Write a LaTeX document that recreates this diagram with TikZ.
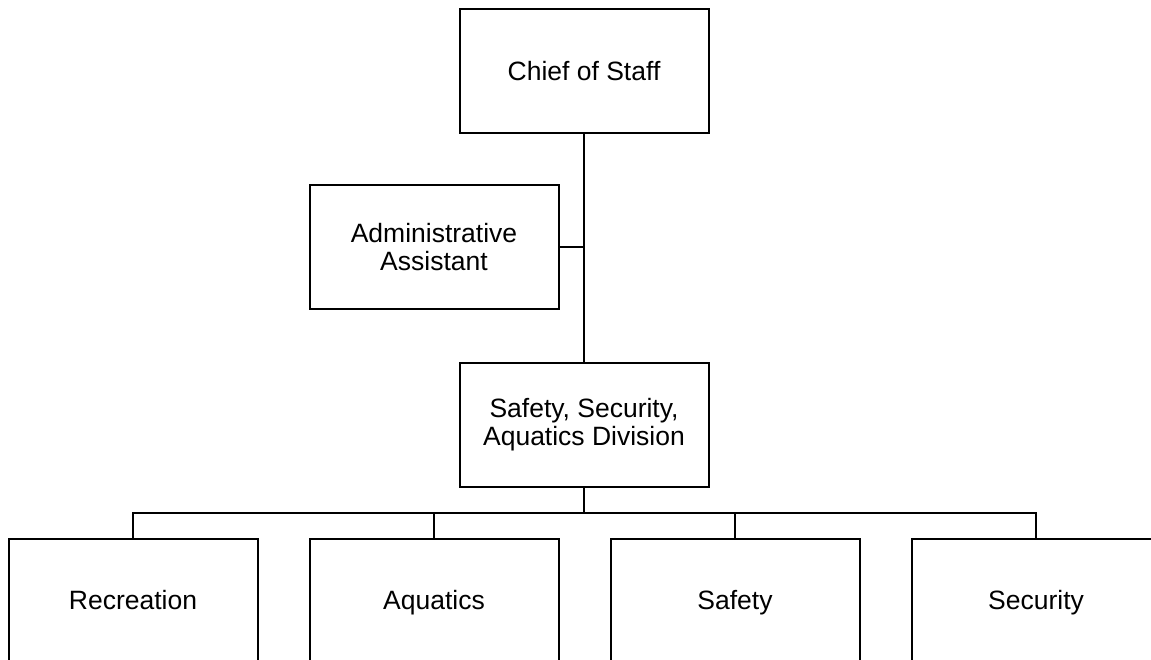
\documentclass[tikz,border=0pt]{standalone}
\usepackage{fontspec}
\setmainfont{Liberation Sans}
\begin{document}
\begin{tikzpicture}[x=1pt,y=-1pt,
  orgbox/.style={draw, line width=2pt, rectangle, minimum width=249pt,
    minimum height=124pt, inner sep=0pt, align=center,
    font=\fontsize{26.5}{27.7}\selectfont},
  unitbox/.style={orgbox, text height=19pt, text depth=2pt},
  link/.style={line width=2pt}]
  \useasboundingbox (0,0) rectangle (1151,660);
  \clip (0,0) rectangle (1151,660);
  % top of the chart
  \node[orgbox] (chief) at (584,71) {Chief of Staff};
  \node[orgbox] (admin) at (434,247) {Administrative\\Assistant};
  \node[orgbox] (div) at (584,424.5) {Safety, Security,\\Aquatics Division};
  % units
  \node[unitbox] (rec) at (133,601) {Recreation};
  \node[unitbox] (aq)  at (434,601) {Aquatics};
  \node[unitbox] (saf) at (735,601) {Safety};
  \node[unitbox] (sec) at (1036,601) {Security};
  % connectors
  \coordinate (bus) at (584,512.5);
  \draw[link] (chief.south) -- (div.north);
  \draw[link] (admin.east) -- (admin.east -| chief.south);
  \draw[link] (div.south) -- (bus);
  \draw[link] (rec.north) |- (bus) -| (sec.north);
  \draw[link] (aq.north) -- (aq.north |- bus);
  \draw[link] (saf.north) -- (saf.north |- bus);
\end{tikzpicture}
\end{document}
